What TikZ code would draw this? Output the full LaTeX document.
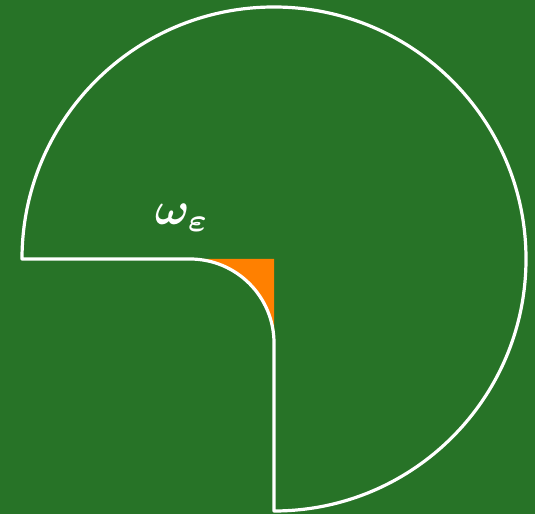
\documentclass[tikz,border=0pt]{standalone}
\usepackage{amsmath,amssymb,bm}
\definecolor{bggreen}{RGB}{39,115,39}
\definecolor{cornerorange}{RGB}{255,128,0}
\begin{document}
\begin{tikzpicture}[x=1pt,y=1pt,
  outline/.style={draw=white,line width=3.2pt,line join=round},
  lbl/.style={text=white,scale=4.6}]
\useasboundingbox (0,0) rectangle (535,514);
\fill[bggreen] (0,0) rectangle (535,514);
\coordinate (C) at (274,255);
\coordinate (L) at (22,255);
\coordinate (B) at (274,3);
\coordinate (K) at (274,171);
\coordinate (T) at (190,255);
\fill[cornerorange] (C) -- (K) arc[start angle=0,end angle=90,radius=84] -- (T) -- cycle;
\draw[outline] (L) arc[start angle=180,end angle=-90,radius=252] -- (K)
  arc[start angle=0,end angle=90,radius=84] -- cycle;
\node[lbl] (w) at (182,296) {$\bm{\omega}_{\bm{\varepsilon}}$};
\end{tikzpicture}
\end{document}
